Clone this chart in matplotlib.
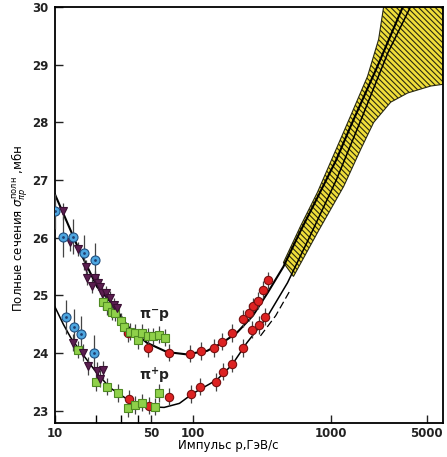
import matplotlib
matplotlib.use("Agg")
import matplotlib.pyplot as plt
import numpy as np

# ---------------- data ----------------
# pi- p
pm_blue_x = [10.0, 11.5, 13.6, 16.3, 19.5]
pm_blue_y = [26.46, 26.02, 26.02, 25.74, 25.61]
pm_blue_e = [0.30, 0.35, 0.30, 0.30, 0.30]

pm_tri_x = [11.4, 12.86, 14.7, 16.8, 17.1, 18.6, 19.5, 20.5, 21.2, 22.0, 23.5, 25.1, 26.9, 28.2]
pm_tri_y = [26.46, 25.92, 25.80, 25.50, 25.31, 25.17, 25.31, 25.22, 25.15, 25.05, 25.05, 24.96, 24.84, 24.79]
pm_tri_e = [0.15, 0.15, 0.12, 0.12, 0.12, 0.12, 0.12, 0.12, 0.12, 0.12, 0.12, 0.12, 0.12, 0.12]

pm_grn_x = [22.3, 24.0, 26.0, 27.3, 30.2, 31.8, 35.1, 38.2, 40.1, 42.9, 47.5, 51.7, 57.2, 63.1]
pm_grn_y = [24.89, 24.81, 24.72, 24.70, 24.55, 24.46, 24.37, 24.35, 24.22, 24.35, 24.29, 24.29, 24.32, 24.27]
pm_grn_e = [0.15] * 14

pm_red_x = [33.9, 47.5, 67.4, 95.8, 115, 143, 164, 194, 233, 258, 275, 299, 326, 354]
pm_red_y = [24.35, 24.09, 24.01, 23.99, 24.04, 24.09, 24.20, 24.35, 24.60, 24.70, 24.81, 24.91, 25.10, 25.26]
pm_red_e = [0.15] * 14

# pi+ p
pp_blue_x = [12.0, 13.7, 15.5, 19.2]
pp_blue_y = [24.63, 24.46, 24.34, 24.01]
pp_blue_e = [0.30, 0.30, 0.30, 0.30]

pp_tri_x = [13.5, 16.0, 17.5, 20.2, 21.2, 22.3]
pp_tri_y = [24.18, 24.01, 23.78, 23.69, 23.56, 23.71]
pp_tri_e = [0.15, 0.15, 0.15, 0.15, 0.15, 0.15]

pp_grn_x = [14.7, 19.9, 24.0, 28.7, 34.0, 38.2, 42.9, 53.3, 57.2]
pp_grn_y = [24.06, 23.50, 23.42, 23.31, 23.05, 23.10, 23.14, 23.07, 23.31]
pp_grn_e = [0.15] * 9

pp_red_x = [34.5, 48.2, 67.4, 97.4, 113, 148, 167, 194, 233, 270, 305, 336]
pp_red_y = [23.21, 23.09, 23.24, 23.29, 23.42, 23.50, 23.68, 23.82, 24.09, 24.41, 24.49, 24.63]
pp_red_e = [0.15] * 12

# fitted curves
pm_fit_x = [10, 11.4, 14.7, 20.2, 26.4, 33.9, 46.5, 65, 90, 127, 164, 210, 273, 350, 455, 600, 804, 1100, 1397, 2197, 3343]
pm_fit_y = [26.75, 26.44, 25.83, 25.15, 24.84, 24.46, 24.18, 24.02, 23.98, 24.04, 24.18, 24.36, 24.65, 25.05, 25.5, 26.1, 26.7, 27.35, 27.93, 28.98, 30.0]

pp_fit_x = [10, 11.5, 13, 15.9, 20.2, 25.1, 35, 49, 62, 80, 100, 150, 193, 247, 347, 487, 700, 1100, 1700, 2600, 3800]
pp_fit_y = [24.8, 24.5, 24.27, 23.98, 23.65, 23.4, 23.17, 23.07, 23.06, 23.13, 23.3, 23.54, 23.8, 24.18, 24.63, 25.22, 26.0, 27.0, 28.1, 29.2, 30.0]

dash_x = [310, 400, 512]
dash_y = [24.3, 24.65, 25.1]

# extrapolation band
band_lo_x = [455, 605, 804, 1124, 1397, 1857, 2234, 2427]
band_lo_y = [25.57, 26.2, 26.79, 27.59, 28.11, 28.80, 29.44, 30.0]
band_hi_x = [6550, 6550, 5330, 3630, 2730, 2056, 1653, 1245, 804, 538]
band_hi_y = [30.0, 28.66, 28.63, 28.51, 28.35, 28.0, 27.53, 26.89, 26.09, 25.33]

xticks = [10, 50, 100, 1000, 5000]
xminor = [20, 30, 40]
yticks = [23, 24, 25, 26, 27, 28, 29, 30]

# ---------------- plot ----------------
plt.rcParams['hatch.linewidth'] = 0.8
fig = plt.figure(figsize=(4.47, 4.57), dpi=100)
ax = fig.add_axes([55/447, 1-423/457, 388/447, 416/457])
ax.set_xscale('log')
ax.set_xlim(10, 6550)
ax.set_ylim(22.79, 30.0)

# band
bx = band_lo_x + band_hi_x
by = band_lo_y + band_hi_y
ax.fill(bx, by, facecolor='#f0de3a', edgecolor='none', lw=0, zorder=1)
ax.fill(bx, by, facecolor='none', edgecolor='#2a2a10', hatch='\\' * 6, lw=0.8, zorder=1)

ax.plot(pm_fit_x, pm_fit_y, color='black', lw=1.5, zorder=2)
ax.plot(pp_fit_x, pp_fit_y, color='black', lw=1.1, zorder=2)
ax.plot(dash_x, dash_y, color='black', lw=0.9, ls=(0, (6, 3)), zorder=2)

ecol = '#444444'
def pts(x, y, e, marker, fc, ec, ms):
    ax.errorbar(x, y, yerr=e, fmt='none', ecolor=ecol, elinewidth=0.9, capsize=0, zorder=3)
    ax.plot(x, y, ls='none', marker=marker, mfc=fc, mec=ec, ms=ms, mew=0.8, zorder=4)

pts(pm_red_x, pm_red_y, pm_red_e, 'o', '#dd2222', '#7a1010', 6)
pts(pp_red_x, pp_red_y, pp_red_e, 'o', '#dd2222', '#7a1010', 6)
pts(pm_grn_x, pm_grn_y, pm_grn_e, 's', '#8fd04a', '#4f8a22', 5.5)
pts(pp_grn_x, pp_grn_y, pp_grn_e, 's', '#8fd04a', '#4f8a22', 5.5)
pts(pm_tri_x, pm_tri_y, pm_tri_e, 'v', '#5b1e50', '#3a0f33', 6)
pts(pp_tri_x, pp_tri_y, pp_tri_e, 'v', '#5b1e50', '#3a0f33', 6)
pts(pm_blue_x, pm_blue_y, pm_blue_e, 'o', '#4da6e0', '#1f4f80', 6.5)
pts(pp_blue_x, pp_blue_y, pp_blue_e, 'o', '#4da6e0', '#1f4f80', 6.5)
ax.plot(pm_blue_x + pp_blue_x, pm_blue_y + pp_blue_y, ls='none', marker='o', ms=2, mfc='#1f3f70', mec='none', zorder=5)

ax.text(53, 24.63, r'$\mathbf{\pi^{-}p}$', fontsize=10, ha='center', va='center', color='#222222')
ax.text(53, 23.60, r'$\mathbf{\pi^{+}p}$', fontsize=10, ha='center', va='center', color='#222222')

ax.set_xticks(xticks)
ax.set_xticklabels([str(t) for t in xticks], fontweight='bold')
ax.set_xticks(xminor, minor=True)
ax.set_xticklabels([], minor=True)
ax.set_yticks(yticks)
ax.set_yticklabels([str(t) for t in yticks], fontweight='bold')
ax.tick_params(axis='both', which='major', direction='in', length=6, width=1.0, labelsize=8.5, colors='#222222')
ax.tick_params(axis='x', which='major', pad=3)
ax.tick_params(axis='y', which='major', pad=5)
ax.tick_params(axis='x', which='minor', direction='in', length=6, width=1.0)
ax.tick_params(axis='y', which='minor', left=False)
for s in ax.spines.values():
    s.set_linewidth(1.3)

fig.text(228/447, 1-446/457, 'Импульс р,ГэВ/с', fontsize=8.5, ha='center', va='center')
fig.text(20/447, 1-228/457, r'Полные сечения $\sigma^{\rm полн}_{\pi p}$ ,мбн', fontsize=8.5,
         rotation=90, ha='center', va='center')

fig.savefig('out.png', dpi=100)
